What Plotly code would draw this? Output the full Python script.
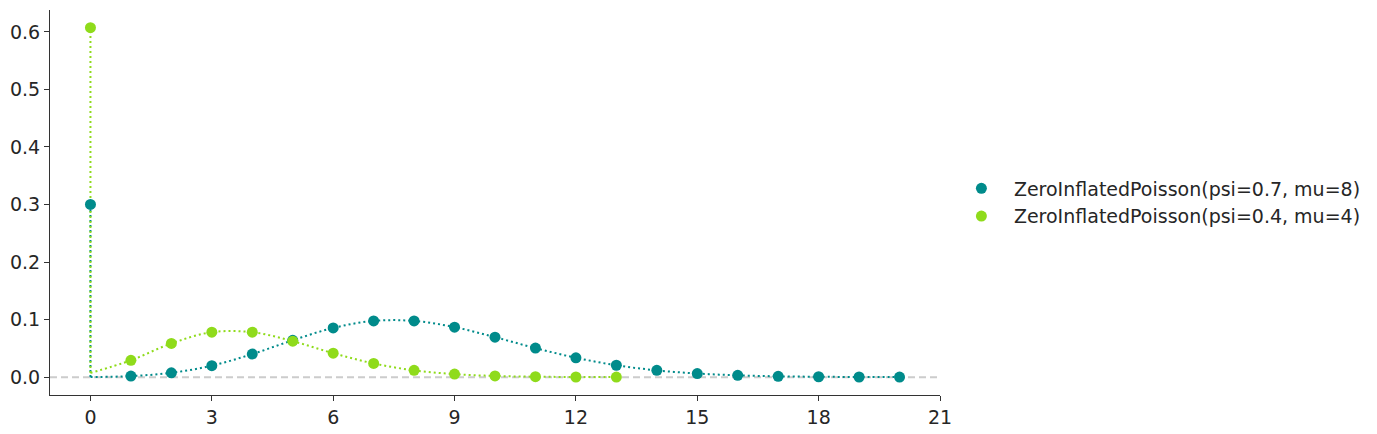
import plotly.graph_objects as go

# x values (counts)
x_teal = list(range(0, 21))
x_green = list(range(0, 14))

# pmf values
pmf_teal = [0.3002, 0.0019, 0.0075, 0.0200, 0.0401, 0.0641, 0.0855, 0.0977, 0.0977,
            0.0869, 0.0695, 0.0505, 0.0337, 0.0207, 0.0118, 0.0063, 0.0032, 0.0015,
            0.0007, 0.0003, 0.0001]
pmf_green = [0.6073, 0.0293, 0.0586, 0.0781, 0.0781, 0.0625, 0.0417, 0.0238, 0.0119,
             0.0053, 0.0021, 0.0008, 0.0003, 0.0001]

# where the dotted curve meets x=0 (bottom of the zero spike)
base_teal = 0.0002
base_green = 0.0073

names = ["ZeroInflatedPoisson(psi=0.7, mu=8)", "ZeroInflatedPoisson(psi=0.4, mu=4)"]
colors = ["#008b8b", "#8fdb1b"]

fig = go.Figure()

fig.add_hline(y=0, line_dash='7px,4px', line_color='#cccccc', line_width=2, layer='below')

series = [(x_teal, pmf_teal, base_teal), (x_green, pmf_green, base_green)]
for (xs, ys, base), name, color in zip(series, names, colors):
    # smooth dotted curve through the non-zero counts
    fig.add_trace(go.Scatter(
        x=xs, y=[base] + ys[1:],
        mode='lines',
        line=dict(color=color, width=2, dash='2px,3px', shape='spline', smoothing=1.0),
        showlegend=False, hoverinfo='skip'
    ))
    # vertical spike at zero
    fig.add_trace(go.Scatter(
        x=[xs[0], xs[0]], y=[base, ys[0]],
        mode='lines',
        line=dict(color=color, width=2, dash='2px,3px'),
        showlegend=False, hoverinfo='skip'
    ))

for (xs, ys, base), name, color in zip(series, names, colors):
    fig.add_trace(go.Scatter(
        x=xs, y=ys,
        mode='markers',
        marker=dict(color=color, size=11),
        name=name
    ))

# page body adds an 8px offset, margins compensate for it
fig.update_layout(
    width=1377, height=434,
    template='plotly_white',
    plot_bgcolor='white',
    margin=dict(l=42, r=445, t=2, b=47),
    font=dict(family='DejaVu Sans', size=19, color='#262626'),
    legend=dict(x=1.01, y=0.5, yanchor='middle', xanchor='left',
                font=dict(size=19), itemwidth=55, tracegroupgap=0),
)
fig.update_xaxes(
    range=[-1, 21], tickvals=[0, 3, 6, 9, 12, 15, 18, 21],
    showgrid=False, zeroline=False, showline=True, linecolor='#333333', linewidth=1,
    ticks='outside', ticklen=5, tickcolor='#333333'
)
fig.update_yaxes(
    range=[-0.031, 0.638], tickvals=[0.0, 0.1, 0.2, 0.3, 0.4, 0.5, 0.6],
    tickformat='.1f',
    showgrid=False, zeroline=False, showline=True, linecolor='#333333', linewidth=1,
    ticks='outside', ticklen=5, tickcolor='#333333'
)

fig.write_html("out.html")
